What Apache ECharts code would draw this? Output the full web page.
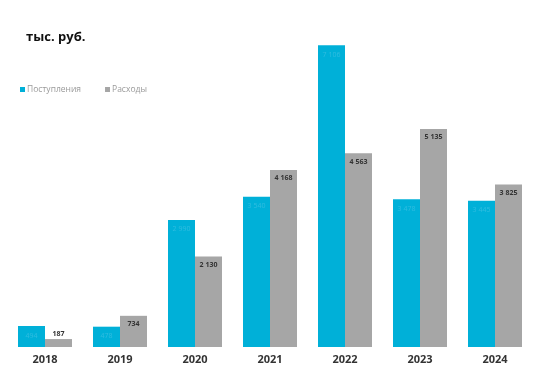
<!DOCTYPE html>
<html><head><meta charset="utf-8">
<script src="https://cdn.jsdelivr.net/npm/echarts@6/dist/echarts.min.js"></script>
<style>html,body{margin:0;padding:0;background:#fff}#c{width:540px;height:373px}</style>
</head><body><div id="c"></div>
<script>
const categories = ['2018','2019','2020','2021','2022','2023','2024'];
const incomeValues = [494, 478, 2990, 3540, 7106, 3478, 3445];
const expenseValues = [187, 734, 2130, 4168, 4563, 5135, 3825];
const seriesNames = ['Поступления', 'Расходы'];

function fmt(v){ return String(v).replace(/\B(?=(\d{3})+(?!\d))/g, ' '); }

const chart = echarts.init(document.getElementById('c'));
chart.setOption({
  animation: false,
  title: { text: 'тыс. руб.', left: 21, top: 26,
    textStyle: { fontFamily: 'Open Sans', fontWeight: 'bold', fontSize: 13, color: '#111' } },
  legend: { left: 15, top: 80, icon: 'rect', itemWidth: 5, itemHeight: 5, itemGap: 24,
    textStyle: { fontFamily: 'Open Sans', fontSize: 8.5, color: '#9a9a9a', padding: [0,0,0,-3] },
    data: seriesNames },
  grid: { left: 7.5, right: 7.5, top: 7.2, bottom: 26, containLabel: false },
  xAxis: { type: 'category', data: categories,
    axisLine: { show: false }, axisTick: { show: false },
    axisLabel: { fontFamily: 'Open Sans', fontWeight: 'bold', fontSize: 11, color: '#333', margin: 7 } },
  yAxis: { type: 'value', min: 0, max: 8000, show: false, splitLine: { show: false } },
  series: [
    { name: seriesNames[0], type: 'bar', data: incomeValues, barGap: '0%', barCategoryGap: '28%',
      itemStyle: { color: '#00b0d8' },
      label: { show: true, position: 'insideTop', distance: 6, fontSize: 7, fontFamily: 'Open Sans',
        color: '#2fbde0', formatter: p => fmt(p.value) } },
    { name: seriesNames[1], type: 'bar', barGap: '0%', barCategoryGap: '28%',
      data: expenseValues.map((v, i) => i === 0 ? { value: v, label: { position: 'top', distance: 2 } } : v),
      itemStyle: { color: '#a6a6a6' },
      label: { show: true, position: 'insideTop', distance: 5, fontSize: 7, fontWeight: 'bold', fontFamily: 'Open Sans',
        color: '#333', formatter: p => fmt(p.value) } }
  ]
});
</script></body></html>
